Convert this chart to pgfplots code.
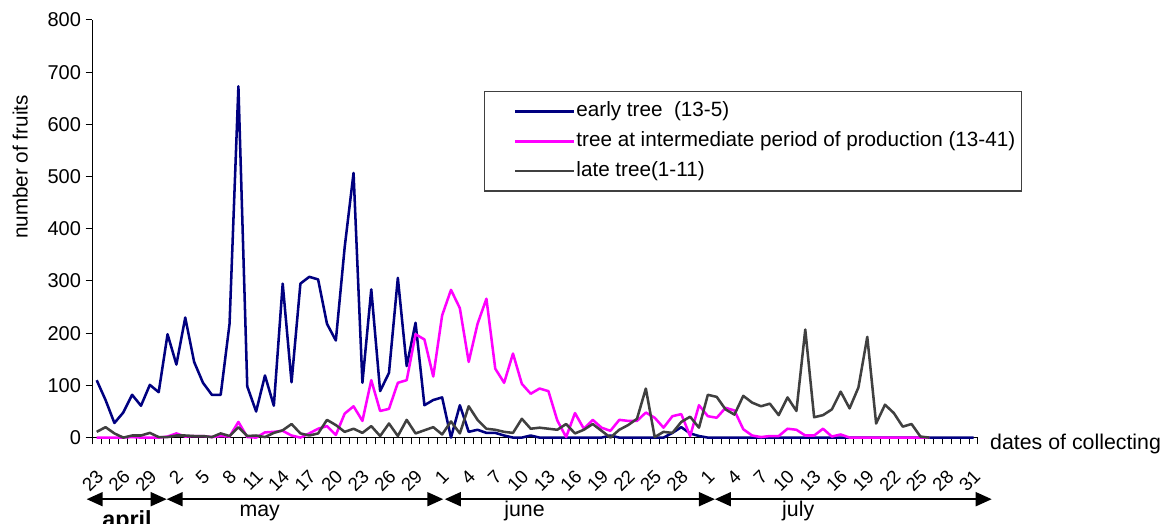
\documentclass[border=0pt]{standalone}
\usepackage{fontspec}
\setmainfont{Liberation Sans}
\usepackage{pgfplots}
\usepackage{pgfplotstable}
\pgfplotsset{compat=1.18}
\usetikzlibrary{arrows.meta,calc}
\definecolor{cblue}{HTML}{000080}
\definecolor{cmag}{HTML}{FF00FF}
\definecolor{cgray}{HTML}{404040}

\pgfplotstableread{
i early inter late
0 110 0 11
1 72 0 20
2 28 0 8
3 48 0 0
4 82 1 4
5 61 0 4
6 101 0 9
7 87 0 1
8 198 2 1
9 140 8 4
10 230 2 4
11 145 3 3
12 105 3 3
13 82 1 1
14 82 3 8
15 218 2 3
16 673 30 20
17 98 1 3
18 50 0 4
19 119 10 1
20 61 11 9
21 295 13 14
22 106 4 26
23 295 0 8
24 308 8 4
25 303 17 8
26 218 22 34
27 186 5 24
28 365 46 11
29 507 60 17
30 105 32 9
31 284 110 22
32 89 51 3
33 124 55 27
34 306 105 3
35 137 110 34
36 220 198 8
37 62 188 14
38 72 117 20
39 77 234 6
40 0 283 31
41 62 248 8
42 11 145 60
43 15 218 34
44 9 266 17
45 9 132 15
46 4 105 11
47 0 161 9
48 0 103 36
49 4 84 17
50 0 94 19
51 0 89 17
52 0 33 15
53 0 1 26
54 0 47 8
55 0 17 15
56 0 34 26
57 0 19 13
58 4 13 0
59 0 34 15
60 0 32 24
61 0 32 36
62 0 48 94
63 0 38 1
64 0 19 11
65 9 41 9
66 20 45 30
67 8 3 40
68 3 62 19
69 0 41 82
70 0 38 78
71 0 57 54
72 0 52 44
73 0 16 80
74 0 4 67
75 0 1 60
76 0 3 65
77 0 3 43
78 0 17 77
79 0 15 51
80 0 4 207
81 0 4 39
82 0 17 43
83 0 2 54
84 0 6 88
85 0 0 56
86 0 0 96
87 0 0 193
88 0 0 27
89 0 0 63
90 0 0 47
91 0 0 21
92 0 0 26
93 0 0 2
94 0 0 0
95 0 nan nan
96 0 nan nan
97 0 nan nan
98 0 nan nan
99 0 nan nan
}\data

\begin{document}
\begin{tikzpicture}
\begin{axis}[
  scale only axis, width=664.3pt, height=313.2pt,
  xmin=-0.5, xmax=99.5, ymin=0, ymax=800,
  axis x line*=bottom, axis y line*=left,
  axis line style={-, line width=0.75pt, black},
  clip=false,
  tick align=outside, major tick length=5pt,
  tick style={black, line width=0.75pt},
  xtick={-0.5,0.5,...,99.5},
  xticklabels={},
  ytick={0,100,...,800},
  /pgf/number format/assume math mode=true,
  yticklabel style={font=\fontsize{15}{18}\selectfont, black},
  extra x ticks={0,3,...,99},
  extra x tick labels={23,26,29,2,5,8,11,14,17,20,23,26,29,1,4,7,10,13,16,19,22,25,28,1,4,7,10,13,16,19,22,25,28,31},
  extra x tick style={major tick length=0pt,
    tick label style={font=\fontsize{14}{16}\selectfont, inner sep=0pt, xshift=-1pt, yshift=-23pt, rotate=45, anchor=north east}},
  ylabel={number of fruits},
  ylabel style={at={(axis description cs:-0.0813,0.648)}, anchor=center, font=\fontsize{15.5}{18}\selectfont},
  xlabel={dates of collecting},
  xlabel style={at={(axis description cs:1.0135,0)}, anchor=base west, yshift=-9.3pt, inner sep=0pt, font=\fontsize{16}{19}\selectfont},
  legend style={at={(axis description cs:0.4423,0.830)}, anchor=north west,
    draw=cgray, line width=0.8pt, inner xsep=4pt, inner ysep=7pt,
    font=\fontsize{15.5}{18}\selectfont, row sep=6.3pt,
    nodes={inner sep=1pt, text height=11pt, text depth=3pt}},
  legend cell align=left,
  legend image code/.code={\path (-18pt,0pt); \draw[#1] (0pt,0pt) -- (44pt,0pt);},
  every axis plot/.append style={line width=1.9pt, line join=round, no markers},
]
\addplot[cblue] table[x=i, y=early] {\data};
\addlegendentry{early tree~ (13-5)}
\addplot[cmag] table[x=i, y=inter] {\data};
\addlegendentry{tree at intermediate period of production (13-41)}
\addplot[cgray] table[x=i, y=late] {\data};
\addlegendentry{late tree(1-11)}

\draw[line width=1.3pt, {Triangle[length=12pt,width=10.5pt]}-{Triangle[length=12pt,width=10.5pt]}] (axis cs:-1.13,-118) -- (axis cs:7.9,-118);
\draw[line width=1.3pt, {Triangle[length=12pt,width=10.5pt]}-{Triangle[length=12pt,width=10.5pt]}] (axis cs:7.9,-118) -- (axis cs:39.13,-118);
\draw[line width=1.3pt, {Triangle[length=12pt,width=10.5pt]}-{Triangle[length=12pt,width=10.5pt]}] (axis cs:39.3,-118) -- (axis cs:69.8,-118);
\draw[line width=1.3pt, {Triangle[length=12pt,width=10.5pt]}-{Triangle[length=12pt,width=10.5pt]}] (axis cs:69.8,-118) -- (axis cs:101.05,-118);
\node[anchor=base, font=\bfseries\fontsize{17.5}{20}\selectfont] at (axis cs:3.43,-173) {april};
\node[anchor=base, font=\fontsize{16}{19}\selectfont] at (axis cs:18.4,-152) {may};
\node[anchor=base, font=\fontsize{16}{19}\selectfont] at (axis cs:48.3,-152) {june};
\node[anchor=base, font=\fontsize{16}{19}\selectfont] at (axis cs:79.2,-152) {july};
\end{axis}
\pgfresetboundingbox
\path ($(current axis.south west)+(-69.2pt,-64.8pt)$) rectangle ($(current axis.south west)+(803.8pt,328.2pt)$);
\end{tikzpicture}
\end{document}
